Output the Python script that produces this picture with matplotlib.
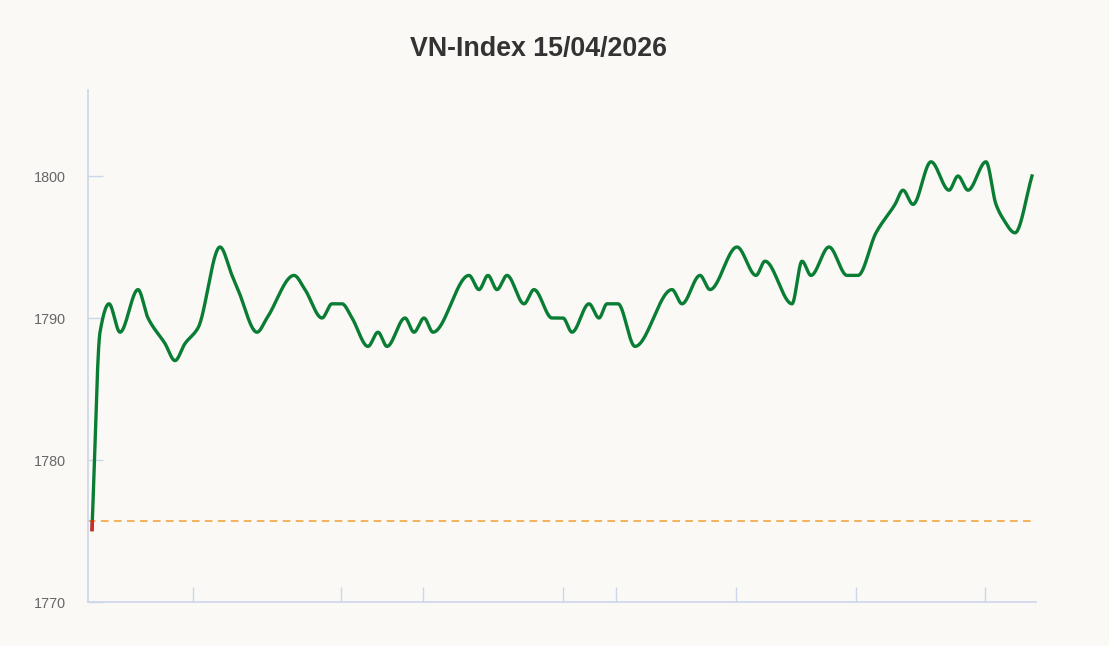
import matplotlib.pyplot as plt
import numpy as np

# Position along the session (unlabelled axis) and index values
t = [4, 12, 21, 32, 50, 60, 77, 87, 97, 110, 132, 144, 150, 169, 179, 206, 217,
     234, 244, 254, 264, 280, 290, 299, 317, 326, 336, 345, 381, 391, 400, 409,
     419, 436, 446, 464, 475, 484, 501, 511, 519, 530, 547, 584, 594, 612, 622,
     649, 668, 677, 704, 714, 723, 741, 759, 770, 788, 807, 815, 825, 843, 861,
     870, 880, 898, 908, 915, 927, 944]
vn_index = [1775.1, 1789, 1791, 1789, 1792, 1790, 1788.2, 1787, 1788.2, 1789.3,
            1795, 1793, 1792, 1789, 1790, 1793, 1792, 1790, 1791, 1791, 1790,
            1788, 1789, 1788, 1790, 1789, 1790, 1789, 1793, 1792, 1793, 1792,
            1793, 1791, 1792, 1790, 1790, 1789, 1791, 1790, 1791, 1791, 1788,
            1792, 1791, 1793, 1792, 1795, 1793, 1794, 1791, 1794, 1793, 1795,
            1793, 1793, 1796, 1798, 1799, 1798, 1801, 1799, 1800, 1799, 1801,
            1798, 1797, 1796, 1800]
prev_close = 1775.7
x_ticks = [105, 253, 335, 475, 528, 648, 768, 897]
y_ticks = [1770, 1780, 1790, 1800]


def pchip(x, y, xs):
    # Monotone cubic smoothing so the line looks like a spline chart
    x = np.asarray(x, float)
    y = np.asarray(y, float)
    h = np.diff(x)
    d = np.diff(y) / h
    m = np.zeros_like(y)
    for k in range(1, len(x) - 1):
        if d[k - 1] * d[k] > 0:
            w1 = 2 * h[k] + h[k - 1]
            w2 = h[k] + 2 * h[k - 1]
            m[k] = (w1 + w2) / (w1 / d[k - 1] + w2 / d[k])
    m[0] = d[0]
    m[-1] = d[-1]
    i = np.clip(np.searchsorted(x, xs) - 1, 0, len(x) - 2)
    s = (xs - x[i]) / h[i]
    h00 = 2 * s**3 - 3 * s**2 + 1
    h10 = s**3 - 2 * s**2 + s
    h01 = -2 * s**3 + 3 * s**2
    h11 = s**3 - s**2
    return h00 * y[i] + h10 * h[i] * m[i] + h01 * y[i + 1] + h11 * h[i] * m[i + 1]


bg = "#faf9f6"
axis_col = "#ccd6eb"

fig = plt.figure(figsize=(11.09, 6.46), dpi=100, facecolor=bg)
ax = fig.add_axes([88 / 1109, 1 - 602 / 646, 948 / 1109, 512 / 646])
ax.set_facecolor(bg)

xs = np.linspace(t[0], t[-1], 3000)
ys = pchip(t, vn_index, xs)

# Reference line (previous close)
ax.axhline(prev_close, color="#f0a030", lw=1.1, ls=(0, (5, 3.5)), zorder=2)

ax.plot(xs, ys, color="#0a7d34", lw=2.4, zorder=3)
# Part of the line below the reference is drawn red
ax.plot(xs, np.where(ys < prev_close, ys, np.nan), color="#e0202a", lw=2.4, zorder=4)

ax.set_xlim(0, 948)
ax.set_ylim(1770, 1770 + 512 / 14.2)

ax.set_xticks(x_ticks)
ax.set_xticklabels([])
ax.set_yticks(y_ticks)
ax.set_yticklabels([str(v) for v in y_ticks])

ax.tick_params(axis="x", direction="in", length=11, width=1, color=axis_col)
ax.tick_params(axis="y", direction="in", length=11, width=1, color=axis_col,
               labelcolor="#666666", labelsize=10.4, pad=16)
for lab in ax.get_yticklabels():
    lab.set_fontfamily(["Liberation Sans", "DejaVu Sans"])

for side in ["top", "right"]:
    ax.spines[side].set_visible(False)
for side in ["left", "bottom"]:
    ax.spines[side].set_color(axis_col)
    ax.spines[side].set_linewidth(1.2)

fig.text(539 / 1109, 1 - 49 / 646, "VN-Index 15/04/2026", ha="center", va="center",
         fontsize=19.3, fontweight="bold", color="#333333",
         family=["Liberation Sans", "DejaVu Sans"])

fig.savefig("out.png", dpi=100, facecolor=bg)
